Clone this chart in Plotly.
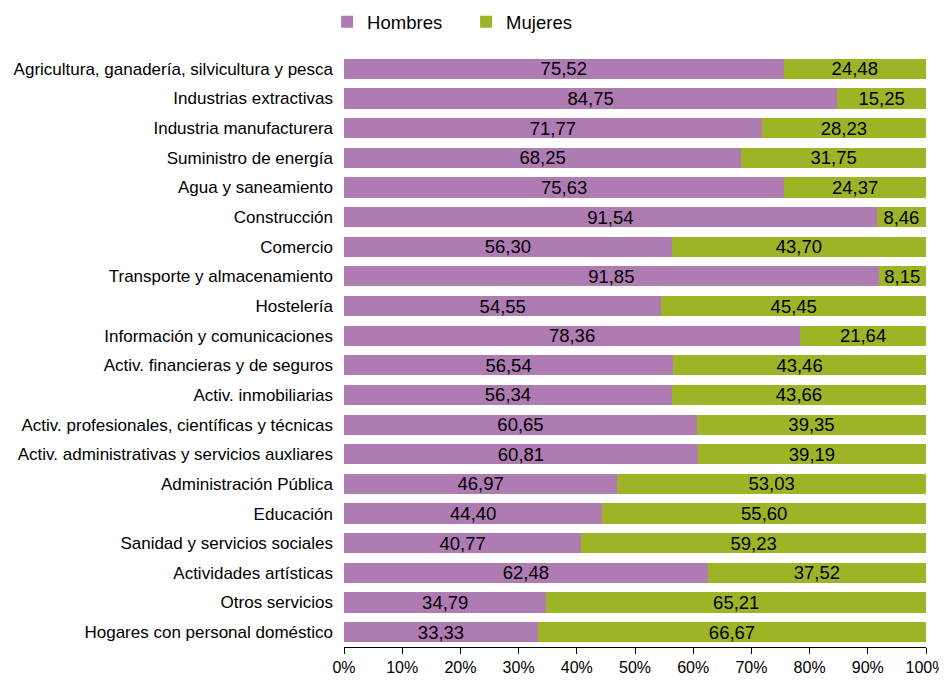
import plotly.graph_objects as go

sectores = [
    'Agricultura, ganadería, silvicultura y pesca',
    'Industrias extractivas',
    'Industria manufacturera',
    'Suministro de energía',
    'Agua y saneamiento',
    'Construcción',
    'Comercio',
    'Transporte y almacenamiento',
    'Hostelería',
    'Información y comunicaciones',
    'Activ. financieras y de seguros',
    'Activ. inmobiliarias',
    'Activ. profesionales, científicas y técnicas',
    'Activ. administrativas y servicios auxliares',
    'Administración Pública',
    'Educación',
    'Sanidad y servicios sociales',
    'Actividades artísticas',
    'Otros servicios',
    'Hogares con personal doméstico',
]
hombres = [75.52, 84.75, 71.77, 68.25, 75.63, 91.54, 56.30, 91.85, 54.55, 78.36,
           56.54, 56.34, 60.65, 60.81, 46.97, 44.40, 40.77, 62.48, 34.79, 33.33]
mujeres = [24.48, 15.25, 28.23, 31.75, 24.37, 8.46, 43.70, 8.15, 45.45, 21.64,
           43.46, 43.66, 39.35, 39.19, 53.03, 55.60, 59.23, 37.52, 65.21, 66.67]

font = 'Liberation Sans, Arial, sans-serif'

fig = go.Figure()
for name, vals, color in [('Hombres', hombres, '#AF7BB3'), ('Mujeres', mujeres, '#9DB426')]:
    fig.add_trace(go.Bar(
        y=sectores, x=vals, name=name, orientation='h',
        marker=dict(color=color, line=dict(width=0)),
        texttemplate='%{x:.2f}', textposition='inside', insidetextanchor='middle',
        textangle=0, constraintext='none',
        textfont=dict(family=font, size=18.5, color='#000000'),
        hoverinfo='x+y',
    ))

# the page body adds an 8px offset, so the figure is a bit smaller than the window
fig.update_layout(
    barmode='stack',
    bargap=0.32,
    separators=', ',
    width=939, height=673,
    margin=dict(l=336, r=21, t=46, b=34, autoexpand=False),
    paper_bgcolor='white', plot_bgcolor='white',
    font=dict(family=font, size=17, color='#000000'),
    legend=dict(orientation='h', traceorder='normal',
                x=-0.029, xanchor='left',
                yref='container', y=0.979, yanchor='middle',
                font=dict(size=18.5), itemwidth=30,
                entrywidth=94, entrywidthmode='pixels'),
    xaxis=dict(range=[0, 100], dtick=10, ticksuffix='%', showgrid=False,
               showline=True, linecolor='#000000', linewidth=1,
               ticks='outside', ticklen=6, tickcolor='#000000',
               tickfont=dict(size=16), zeroline=False, automargin=False),
    yaxis=dict(autorange='reversed', showgrid=False, showline=False,
               ticks='', ticklabelstandoff=10, tickfont=dict(size=17),
               automargin=False),
)

fig.write_html('out.html')
